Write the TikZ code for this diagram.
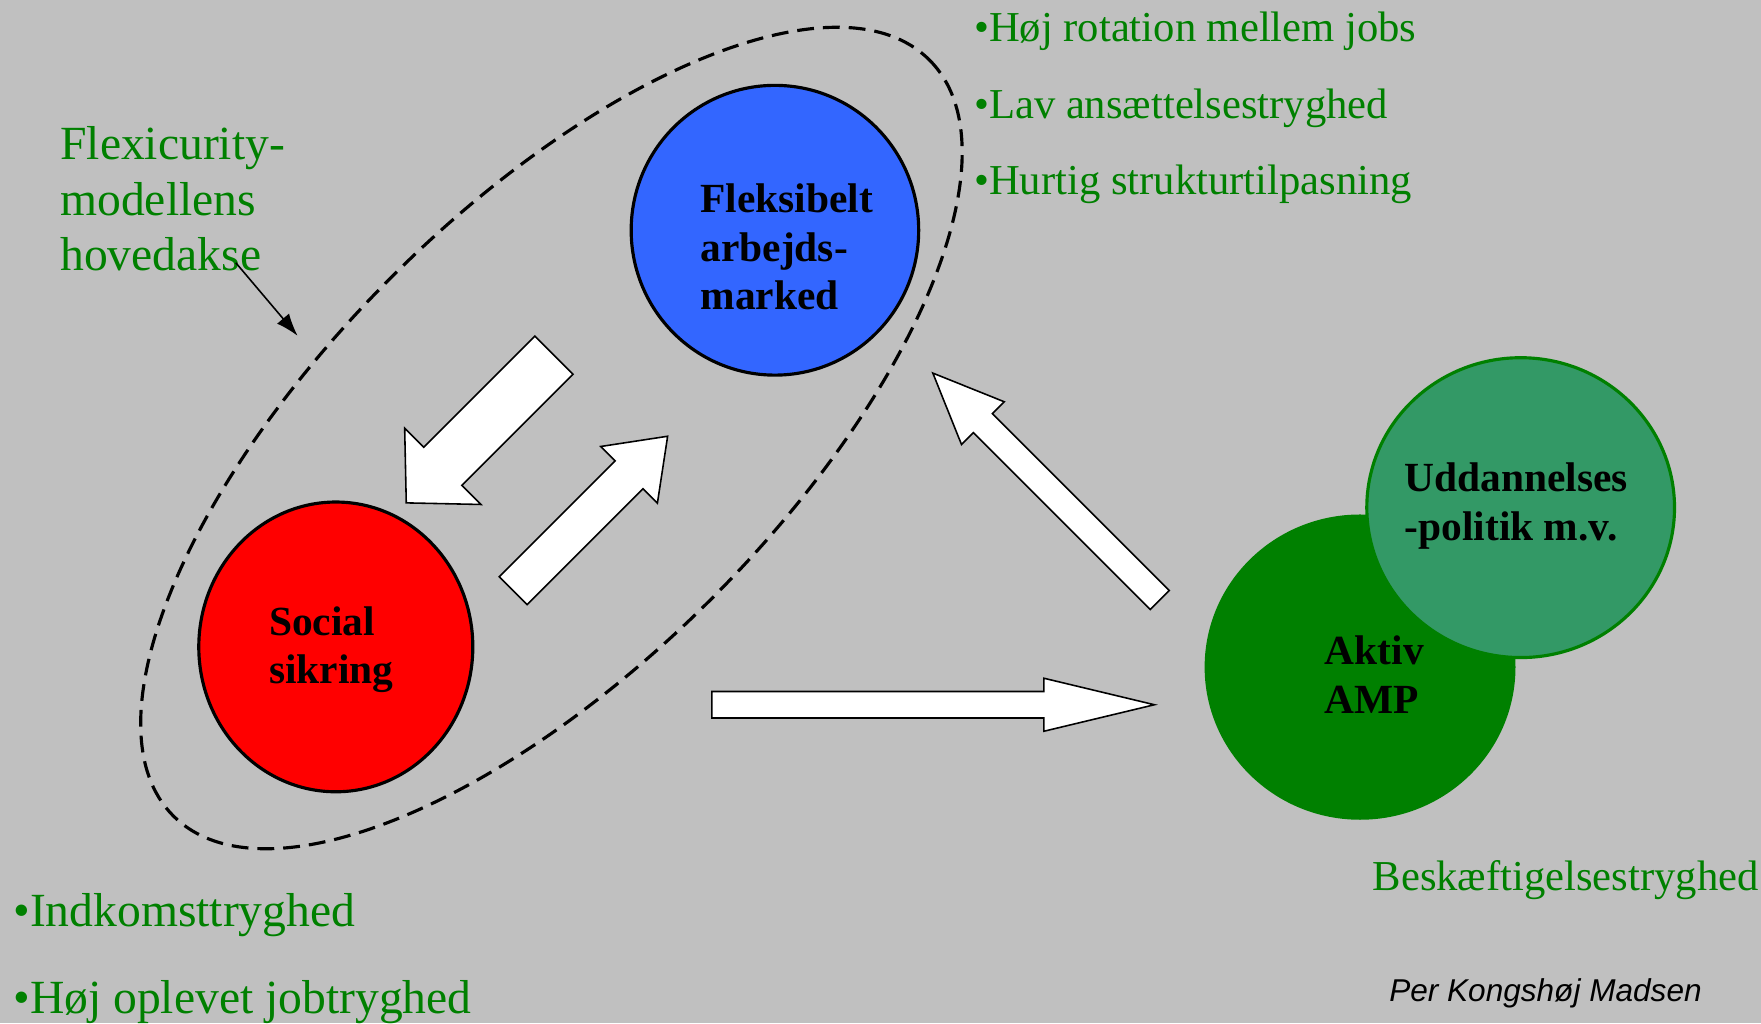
\documentclass[tikz,border=0pt]{standalone}
\usepackage{fontspec}
\setmainfont{Liberation Serif}
\newfontfamily\creditfont{Liberation Sans}
\usepackage{tikz}
\usetikzlibrary{shapes,arrows}
\usetikzlibrary{arrows.meta}
\definecolor{bggray}{RGB}{192,192,192}
\definecolor{fpblue}{RGB}{51,102,255}
\definecolor{fpgreen}{RGB}{0,128,0}
\definecolor{fplightgreen}{RGB}{51,153,102}
\tikzset{fptext/.style={text=fpgreen, anchor=base west, align=left, inner sep=0pt}}
\newcommand{\fpcircle}[6] {\node at (#1) (#2) [ellipse, draw=#3, fill=#4, line width=0.8pt, minimum width=#5, minimum height=#6] {};}
\newcommand{\fplabel}[3] {\node at (#1) (#2) [anchor=base west, align=left, inner sep=0pt, font=\bfseries\fontsize{10.5}{12.4}\selectfont] {#3};}
\newcommand{\fpblockarrow}[6] {\draw [fill=white, line width=0.4pt, shift={(#1)}, rotate=#2] ({-#3/2},{-#4}) -- ({#3/2-#6},{-#4}) -- ({#3/2-#6},{-#5}) -- ({#3/2},0) -- ({#3/2-#6},{#5}) -- ({#3/2-#6},{#4}) -- ({-#3/2},{#4}) -- cycle;}

\begin{document}
\begin{tikzpicture}[x=0.1mm, y=-0.1mm]
\fill [bggray] (0,0) rectangle (1568,911);
\useasboundingbox (0,0) rectangle (1568,911);

\draw [line width=0.8pt, dash pattern=on 1.5mm off 0.8mm, rotate around={45:(491,390)}] (491,390) ellipse [x radius=476, y radius=202];

\fpcircle {690,205} {fleks} {black} {fpblue} {25.6mm} {25.8mm};
\fpcircle {299,576} {social} {black} {red} {24.4mm} {25.8mm};
\fpcircle {1211,594} {aktiv} {fpgreen} {fpgreen} {27.4mm} {26.9mm};
\fpcircle {1354,452} {uddan} {fpgreen} {fplightgreen} {27.4mm} {26.7mm};

\fplabel {623,276} {fleksl} {Fleksibelt\\arbejds-\\marked};
\fplabel {239,609} {sociall} {Social\\sikring};
\fplabel {1179,635} {aktivl} {Aktiv\\AMP};
\fplabel {1250,481} {uddanl} {Uddannelses\\-politik m.v.};

\fpblockarrow {427.5,382} {225} {186} {24} {48} {46};
\fpblockarrow {525.7,457.2} {45} {194.5} {17.5} {35.7} {48.6};
\fpblockarrow {830.9,627.5} {0} {394} {11.8} {23.6} {98.4};
\fpblockarrow {931.6,433.2} {135} {285.7} {12} {26.9} {63};

\node at (53,241) (akse) [fptext, font=\fontsize{12.06}{14.08}\selectfont] {Flexicurity-\\modellens\\hovedakse};
\coordinate (aksefrom) at (210,234);
\coordinate (akseto) at (265,299);
\draw [-{Latex[length=2mm,width=1.4mm]}, line width=0.4pt] (aksefrom) -- (akseto);

\node at (866.7,173.6) (flexlist) [fptext, font=\fontsize{10.8}{19.4}\selectfont] {•Høj rotation mellem jobs\\•Lav ansættelsestryghed\\•Hurtig strukturtilpasning};
\node at (11.2,902.2) (seclist) [fptext, font=\fontsize{12.06}{21.9}\selectfont] {•Indkomsttryghed\\•Høj oplevet jobtryghed};
\node at (1221.5,792.5) (beskaeft) [fptext, font=\fontsize{10.8}{13}\selectfont] {Beskæftigelsestryghed};
\node at (1236.3,892) (credit) [anchor=base west, inner sep=0pt, font=\creditfont\itshape\fontsize{8}{9.6}\selectfont] {Per Kongshøj Madsen};
\end{tikzpicture}
\end{document}
